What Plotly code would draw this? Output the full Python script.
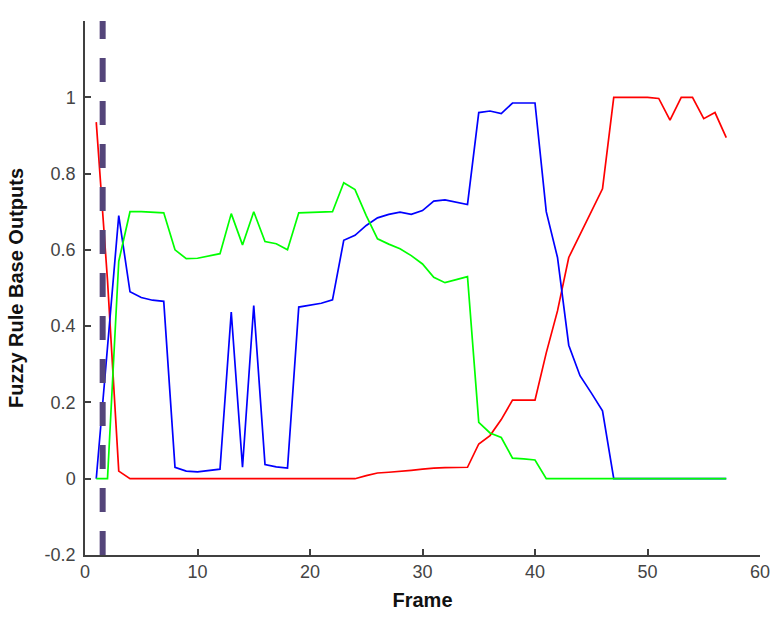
"""Fuzzy rule base outputs per frame."""

import plotly.graph_objects as go

frames = list(range(1, 58))

red_output = [
    0.935, 0.52, 0.02, 0, 0, 0, 0, 0, 0, 0,
    0, 0, 0, 0, 0, 0, 0, 0, 0, 0,
    0, 0, 0, 0, 0.008, 0.015, 0.017, 0.019, 0.022, 0.025,
    0.028, 0.029, 0.03, 0.03, 0.091, 0.113, 0.155, 0.206, 0.206, 0.206,
    0.33, 0.44, 0.58, 0.64, 0.70, 0.76, 1.0, 1.0, 1.0, 1.0,
    0.997, 0.94, 1.0, 1.0, 0.944, 0.96, 0.894,
]

blue_output = [
    0, 0.35, 0.69, 0.49, 0.475, 0.468, 0.465, 0.03, 0.02, 0.018,
    0.022, 0.025, 0.437, 0.03, 0.454, 0.037, 0.031, 0.028, 0.45, 0.455,
    0.46, 0.469, 0.625, 0.638, 0.664, 0.684, 0.693, 0.699, 0.693, 0.703,
    0.728, 0.731, 0.725, 0.719, 0.96, 0.964, 0.957, 0.985, 0.985, 0.985,
    0.70, 0.58, 0.35, 0.27, 0.225, 0.178, 0, 0, 0, 0,
    0, 0, 0, 0, 0, 0, 0,
]

green_output = [
    0, 0, 0.57, 0.70, 0.70, 0.699, 0.697, 0.60, 0.577, 0.578,
    0.583, 0.59, 0.695, 0.613, 0.70, 0.622, 0.616, 0.60, 0.697, 0.698,
    0.699, 0.70, 0.776, 0.758, 0.69, 0.629, 0.615, 0.603, 0.585, 0.563,
    0.528, 0.514, 0.522, 0.53, 0.148, 0.12, 0.108, 0.054, 0.052, 0.049,
    0, 0, 0, 0, 0, 0, 0, 0, 0, 0,
    0, 0, 0, 0, 0, 0, 0,
]

marker_frame = 1.57  # dashed vertical marker
x_ticks = [0, 10, 20, 30, 40, 50, 60]
y_ticks = [-0.2, 0, 0.2, 0.4, 0.6, 0.8, 1]
y_tick_text = ["-0.2", "0", "0.2", "0.4", "0.6", "0.8", "1"]

FONT = "Liberation Sans, Arial, sans-serif"

fig = go.Figure()
for values, color in [(red_output, "#ff0000"), (blue_output, "#0000ff"), (green_output, "#00ff00")]:
    fig.add_trace(go.Scatter(
        x=frames, y=values, mode="lines",
        line=dict(color=color, width=1.7),
        showlegend=False,
    ))

fig.add_shape(
    type="line", xref="x", yref="y",
    x0=marker_frame, x1=marker_frame, y0=-0.2, y1=1.2,
    line=dict(color="#54457a", width=6, dash="24px,19px"),
    layer="above",
)

axis_common = dict(
    showgrid=False, zeroline=False, automargin=False,
    showline=True, linecolor="#404040", linewidth=1.5,
    ticks="inside", ticklen=6, tickwidth=1.5, tickcolor="#404040",
    tickfont=dict(family=FONT, size=18, color="#444444"),
)

fig.update_xaxes(
    range=[0, 60], tickvals=x_ticks, ticklabelstandoff=0,
    title=dict(text="<b>Frame</b>", font=dict(family=FONT, size=20, color="#111111"), standoff=12),
    **axis_common,
)
fig.update_yaxes(
    range=[-0.2, 1.2], tickvals=y_ticks, ticktext=y_tick_text, ticklabelstandoff=4,
    title=dict(text="<b>Fuzzy Rule Base Outputs</b>", font=dict(family=FONT, size=20, color="#111111"), standoff=16),
    **axis_common,
)

fig.update_layout(
    width=780, height=632,
    margin=dict(l=85, r=20, t=21, b=77),
    paper_bgcolor="white", plot_bgcolor="white",
)

# drop the browser's default body margin so the figure sits at the page corner
fig.write_html(
    "out.html",
    config={"displayModeBar": False},
    post_script="document.body.style.margin='0';",
)
